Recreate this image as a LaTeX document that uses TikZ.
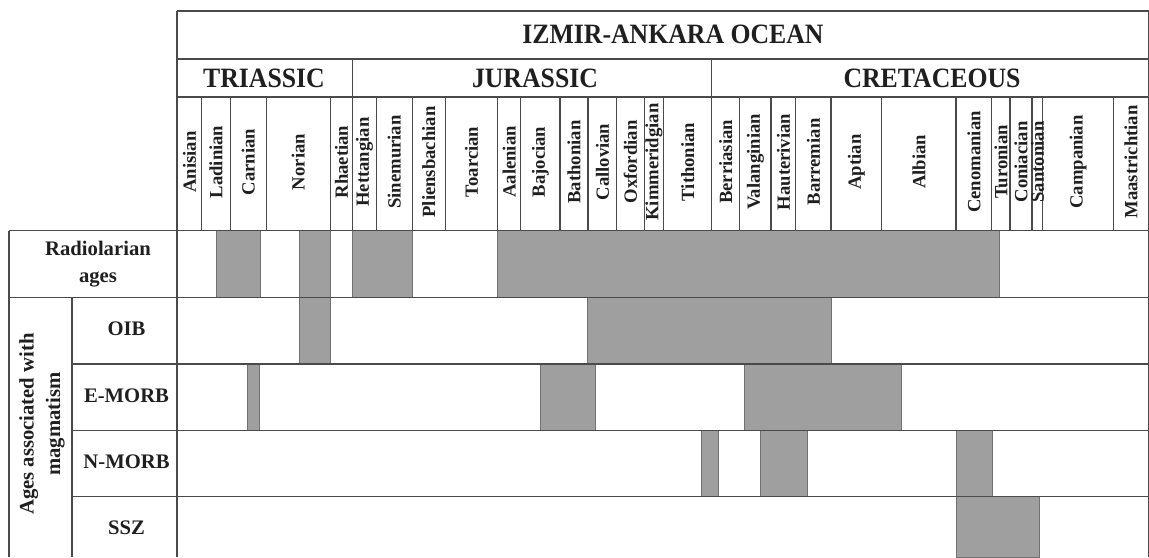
\documentclass[tikz,border=0pt]{standalone}
\usepackage{fontspec}
\setmainfont{Liberation Serif}
\usepackage{graphicx}
\usepackage{tikz}
\pgfdeclarelayer{barlayer}
\pgfdeclarelayer{gridlayer}
\pgfsetlayers{barlayer,gridlayer,main}
\definecolor{gridgrey}{HTML}{4A4A4A}
\definecolor{barfill}{HTML}{9E9F9E}
\definecolor{baredge}{HTML}{727272}
\tikzstyle{grid}=[draw=gridgrey, line width=0.8pt]
\tikzstyle{bar}=[fill=barfill, draw=baredge, line width=0.6pt]
\tikzstyle{stage}=[rotate=90, inner sep=0pt, font=\fontsize{14}{15}\selectfont\bfseries, text=black!88]
\tikzstyle{period}=[inner sep=0pt, font=\fontsize{21}{22}\selectfont\bfseries, text=black!88]
\tikzstyle{rowlabel}=[inner sep=0pt, align=center, font=\fontsize{15.5}{20}\selectfont\bfseries, text=black!88]

\begin{document}
\begin{tikzpicture}[x=0.75pt, y=-0.75pt]
				\useasboundingbox (0,0) rectangle (1149,557);
				\begin{pgfonlayer}{barlayer}
					% radiolarian ages
					\draw [style=bar] (216.7,230.7) rectangle (260.7,297.3);
					\draw [style=bar] (299.3,230.7) rectangle (330,297.3);
					\draw [style=bar] (352.7,230.7) rectangle (412,297.3);
					\draw [style=bar] (497.7,230.7) rectangle (999,297.3);
					% OIB
					\draw [style=bar] (299.3,297.3) rectangle (330,364);
					\draw [style=bar] (587,297.3) rectangle (831,364);
					% E-MORB
					\draw [style=bar] (247.3,364) rectangle (259.7,430.7);
					\draw [style=bar] (540,364) rectangle (595,430.7);
					\draw [style=bar] (744.3,364) rectangle (901.3,430.7);
					% N-MORB
					\draw [style=bar] (701.7,430.7) rectangle (718.7,496.7);
					\draw [style=bar] (760,430.7) rectangle (807.7,496.7);
					\draw [style=bar] (956,430.7) rectangle (992.3,496.7);
					% SSZ
					\draw [style=bar] (956,496.7) rectangle (1039.7,557);
				\end{pgfonlayer}
				\begin{pgfonlayer}{gridlayer}
					\draw [style=grid] (177,11) -- (1148.5,11);
					\draw [style=grid] (177,59) -- (1148.5,59);
					\draw [style=grid] (177,97) -- (1148.5,97);
					\draw [style=grid] (9,230.7) -- (1148.5,230.7);
					\draw [style=grid] (9,297.3) -- (1148.5,297.3);
					\draw [style=grid] (72,364) -- (1148.5,364);
					\draw [style=grid] (72,430.7) -- (1148.5,430.7);
					\draw [style=grid] (72,496.7) -- (1148.5,496.7);
					\draw [style=grid] (9,230.7) -- (9,557);
					\draw [style=grid] (72,297.3) -- (72,557);
					\draw [style=grid] (177,11) -- (177,557);
					\draw [style=grid] (1148.5,11) -- (1148.5,557);
					% period limits
					\draw [style=grid] (352.7,59) -- (352.7,230.7);
					\draw [style=grid] (711.7,59) -- (711.7,230.7);
					% stage limits
					\draw [style=grid] (201.7,97) -- (201.7,230.7);
					\draw [style=grid] (230.3,97) -- (230.3,230.7);
					\draw [style=grid] (266.3,97) -- (266.3,230.7);
					\draw [style=grid] (330.3,97) -- (330.3,230.7);
					\draw [style=grid] (376.3,97) -- (376.3,230.7);
					\draw [style=grid] (412.3,97) -- (412.3,230.7);
					\draw [style=grid] (445.3,97) -- (445.3,230.7);
					\draw [style=grid] (497.7,97) -- (497.7,230.7);
					\draw [style=grid] (520.7,97) -- (520.7,230.7);
					\draw [style=grid] (560,97) -- (560,230.7);
					\draw [style=grid] (588,97) -- (588,230.7);
					\draw [style=grid] (616.7,97) -- (616.7,230.7);
					\draw [style=grid] (644.3,97) -- (644.3,230.7);
					\draw [style=grid] (663.7,97) -- (663.7,230.7);
					\draw [style=grid] (739.7,97) -- (739.7,230.7);
					\draw [style=grid] (771,97) -- (771,230.7);
					\draw [style=grid] (795.7,97) -- (795.7,230.7);
					\draw [style=grid] (831,97) -- (831,230.7);
					\draw [style=grid] (881.7,97) -- (881.7,230.7);
					\draw [style=grid] (956,97) -- (956,230.7);
					\draw [style=grid] (991.7,97) -- (991.7,230.7);
					\draw [style=grid] (1010,97) -- (1010,230.7);
					\draw [style=grid] (1032,97) -- (1032,230.7);
					\draw [style=grid] (1042.7,97) -- (1042.7,230.7);
					\draw [style=grid] (1113.3,97) -- (1113.3,230.7);
				\end{pgfonlayer}
				% headings
				\node [style=period] (ocean) at (673,34) {\scalebox{0.92}[1]{IZMIR-ANKARA OCEAN}};
				\node [style=period] (triassic) at (264,78) {\scalebox{0.92}[1]{TRIASSIC}};
				\node [style=period] (jurassic) at (535,78) {\scalebox{0.92}[1]{JURASSIC}};
				\node [style=period] (cretaceous) at (932,78) {\scalebox{0.92}[1]{CRETACEOUS}};
				% stages
				\node [style=stage] (anisian) at (189.4,162) {Anisian};
				\node [style=stage] (ladinian) at (216,162) {Ladinian};
				\node [style=stage] (carnian) at (248.3,162) {Carnian};
				\node [style=stage] (norian) at (298.3,162) {Norian};
				\node [style=stage] (rhaetian) at (341.5,162) {Rhaetian};
				\node [style=stage] (hettangian) at (364.5,162) {Hettangian};
				\node [style=stage] (sinemurian) at (394.3,162) {Sinemurian};
				\node [style=stage] (pliensbachian) at (428.8,162) {Pliensbachian};
				\node [style=stage] (toarcian) at (471.5,162) {Toarcian};
				\node [style=stage] (aalenian) at (509.2,162) {Aalenian};
				\node [style=stage] (bajocian) at (540.4,162) {Bajocian};
				\node [style=stage] (bathonian) at (574,162) {Bathonian};
				\node [style=stage] (callovian) at (602.4,162) {Callovian};
				\node [style=stage] (oxfordian) at (630.5,162) {Oxfordian};
				\node [style=stage] (kimmeridgian) at (654,162) {Kimmeridgian};
				\node [style=stage] (tithonian) at (687.7,162) {Tithonian};
				\node [style=stage] (berriasian) at (725.7,162) {Berriasian};
				\node [style=stage] (valanginian) at (755.4,162) {Valanginian};
				\node [style=stage] (hauterivian) at (783.4,162) {Hauterivian};
				\node [style=stage] (barremian) at (813.4,162) {Barremian};
				\node [style=stage] (aptian) at (856.4,162) {Aptian};
				\node [style=stage] (albian) at (918.9,162) {Albian};
				\node [style=stage] (cenomanian) at (973.9,162) {Cenomanian};
				\node [style=stage] (turonian) at (1000.9,162) {Turonian};
				\node [style=stage] (coniacian) at (1021,162) {Coniacian};
				\node [style=stage] (santonian) at (1037.4,162) {Santonian};
				\node [style=stage] (campanian) at (1078,162) {Campanian};
				\node [style=stage] (maastrichtian) at (1130.9,162) {Maastrichtian};
				% row labels
				\node [style=rowlabel] (radiolarian) at (98,264) {Radiolarian\\ages};
				\node [style=rowlabel, rotate=90] (magmatism) at (42,424) {Ages associated with\\magmatism};
				\node [style=rowlabel] (oib) at (126.5,329) {OIB};
				\node [style=rowlabel] (emorb) at (126.5,395.5) {E-MORB};
				\node [style=rowlabel] (nmorb) at (126.5,462) {N-MORB};
				\node [style=rowlabel] (ssz) at (126.5,528) {SSZ};
\end{tikzpicture}
\end{document}
